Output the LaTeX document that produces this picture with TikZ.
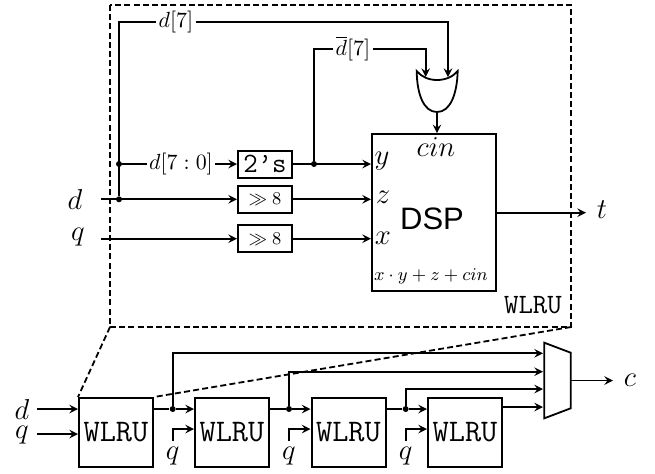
\documentclass[tikz,border=0pt]{standalone}
\usepackage{fontspec}
\newfontfamily\dspfont{Liberation Sans}
\tikzset{
    wire/.style={line width=0.9pt},
    arrow/.style={wire,-stealth},
    zoomline/.style={line width=0.9pt,dash pattern=on 3pt off 1.6pt},
    block/.style={draw,line width=1pt,inner sep=0pt},
    smallbox/.style={block,minimum width=27pt,minimum height=13.5pt},
    wlrubox/.style={block,minimum width=37pt,minimum height=34.5pt,font=\fontsize{15.7}{18}\selectfont\ttfamily},
    dot/.style={circle,fill=black,inner sep=0pt,minimum size=3pt},
    tag/.style={inner sep=1pt,font=\fontsize{11}{13}\selectfont},
    pin/.style={inner sep=0pt,font=\fontsize{14}{16}\selectfont},
    bigpin/.style={inner sep=0pt,font=\fontsize{14.4}{16}\selectfont},
}
\begin{document}
\begin{tikzpicture}[x=0.5pt,y=-0.5pt]
    \useasboundingbox (0,0) rectangle (655,473);

    % inside of the unit
    \node[smallbox,font=\fontsize{14}{16}\selectfont\ttfamily] (twos) at (265,164) {2’s};
    \node[smallbox,font=\fontsize{9}{11}\selectfont] (shiftd) at (265,199.3) {$\gg 8$};
    \node[smallbox,font=\fontsize{9}{11}\selectfont] (shiftq) at (265,238.7) {$\gg 8$};
    \node[block,minimum width=62pt,minimum height=78.5pt] (dsp) at (434,212.7) {};
    \node[font=\fontsize{15.5}{18}\selectfont\dspfont] (dsplabel) at (432,219) {DSP};
    \node[pin] (cin) at (436,147) {$cin$};
    \node[pin] (ylabel) at (382,161) {$y$};
    \node[pin] (zlabel) at (383,197) {$z$};
    \node[pin] (xlabel) at (383,238) {$x$};
    \node[inner sep=0pt,font=\fontsize{9.3}{11}\selectfont] (formula) at (431,276) {$x\cdot y+z+cin$};
    \node[inner sep=0pt,font=\fontsize{14}{16}\selectfont\ttfamily] (unitname) at (533,305) {WLRU};

    \node[bigpin] (din) at (75,199) {$d$};
    \node[bigpin] (qin) at (78,237) {$q$};
    \node[inner sep=0pt,font=\Large] (tout) at (602,210) {$t$};
    \node[tag] (dtop) at (176,22) {$d[7]$};
    \node[tag] (dbar) at (353,49) {$\overline{d}[7]$};
    \node[tag,fill=white] (dlow) at (181,164) {$d[7:0]$};

    \coordinate (dstart) at (101,199.3);
    \coordinate (qstart) at (101,238.7);
    \coordinate (orleft) at (425.7,77);
    \coordinate (orright) at (448,77);
    \coordinate (orbot) at (437,112);
    \coordinate (tend) at (586,212.7);
    \node[dot] (dtap) at (119,199.3) {};
    \node[dot] (dlowtap) at (119,164) {};
    \node[dot] (twostap) at (314,164) {};

    \draw[arrow] (dstart) -- (shiftd);
    \draw[arrow] (qstart) -- (shiftq);
    \draw[wire] (dtap) |- (dtop);
    \draw[arrow] (dtop) -| (orright);
    \draw[wire] (dlowtap) -- (dlow);
    \draw[arrow] (dlow) -- (twos);
    \draw[wire] (twostap) |- (dbar);
    \draw[arrow] (dbar) -| (orleft);
    \draw[arrow] (twos) -- (twos -| dsp.west);
    \draw[arrow] (shiftd) -- (shiftd -| dsp.west);
    \draw[arrow] (shiftq) -- (shiftq -| dsp.west);
    \draw[arrow] (orbot) -- (orbot |- dsp.north);
    \draw[arrow] (dsp.east) -- (tend);

    % or gate
    \draw[line width=0.9pt] (416.7,71) .. controls (426,83) and (448,83) .. (457.7,71)
        .. controls (457,95) and (450,112) .. (orbot)
        .. controls (424,112) and (417,95) .. (416.7,71) -- cycle;

    % the chain below
    \foreach \i/\x in {1/116,2/232,3/348.5,4/465}
        \node[wlrubox] (wlru\i) at (\x,432.5) {WLRU};

    \coordinate (chaind) at (37,409);
    \coordinate (chainq) at (37,434);
    \node[pin] (dlabel) at (22,409) {$d$};
    \node[pin] (qlabel) at (22,435) {$q$};
    \draw[arrow] (chaind) -- (chaind -| wlru1.west);
    \draw[arrow] (chainq) -- (chainq -| wlru1.west);

    % mux
    \coordinate (muxa) at (544.3,342.7);
    \coordinate (muxb) at (570.7,352.7);
    \coordinate (muxc) at (570.7,408.3);
    \coordinate (muxd) at (544.3,418.3);
    \coordinate (muxout) at (570.7,380.5);
    \draw[line width=0.9pt] (muxa) -- (muxb) -- (muxc) -- (muxd) -- cycle;
    \node[bigpin] (cout) at (630,380) {$c$};
    \coordinate (cend) at (613,380.5);
    \draw[arrow] (muxout) -- (cend);

    \foreach \i/\j/\x/\h in {1/2/172.7/353.3,2/3/289/371.7,3/4/405.7/389}
    {
        \coordinate (out\i) at (wlru\i.east |- 0,409);
        \node[dot] (tap\i) at (\x,409) {};
        \node[pin] (q\j) at (\x,456) {$q$};
        \coordinate (qup\j) at (\x,441);
        \coordinate (qin\j) at (wlru\j.west |- 0,429);
        \coordinate (muxin\i) at (543,\h);
        \draw[wire] (out\i) -- (tap\i);
        \draw[arrow] (tap\i) -- (tap\i -| wlru\j.west);
        \draw[arrow] (tap\i) |- (muxin\i);
        \draw[arrow] (qup\j) |- (qin\j);
    }
    \coordinate (lastout) at (wlru4.east |- 0,407);
    \coordinate (muxin4) at (543,407);
    \draw[arrow] (lastout) -- (muxin4);

    % dashed outline
    \coordinate (unitnw) at (110,5);
    \coordinate (unitse) at (571,327);
    \draw[zoomline] (unitnw) rectangle (unitse);
    \draw[zoomline] (unitnw |- unitse) -- (wlru1.north west);
    \draw[zoomline] (unitse) -- (wlru1.north east);
\end{tikzpicture}
\end{document}
